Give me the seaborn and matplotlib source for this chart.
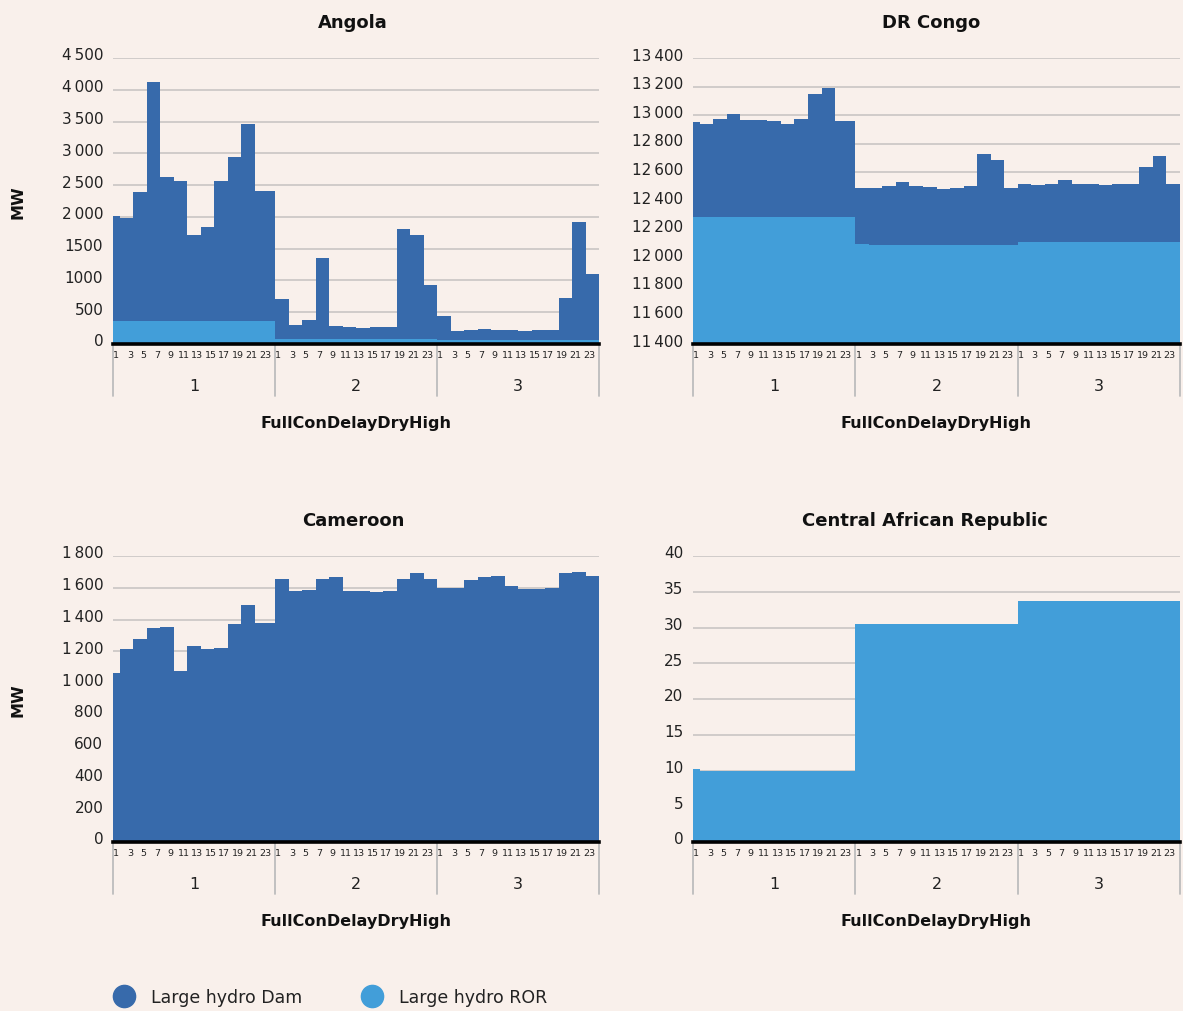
import numpy as np
import pandas as pd
import matplotlib
matplotlib.use("Agg")
import matplotlib.pyplot as plt
import matplotlib.transforms as mtransforms
from matplotlib.lines import Line2D
from matplotlib.ticker import FixedLocator, FixedFormatter
import seaborn as sns

# ---------------- data (MW, hourly, 3 representative days x 24 h) ----------------
GROUPS = ["1", "2", "3"]
HOUR_LABELS = [str(h) for h in range(1, 24, 2)]
SERIES = ["Large hydro Dam", "Large hydro ROR"]

ANGOLA_DAM = [
    1650, 1630, 1630, 2030, 2030, 3770, 3770, 2270, 2270, 2210, 2210, 1355,
    1355, 1480, 1480, 2210, 2210, 2580, 2580, 3100, 3100, 2055, 2055, 2055,
    628, 628, 224, 224, 303, 303, 1273, 1273, 214, 214, 198, 198,
    182, 182, 198, 198, 198, 198, 1730, 1730, 1635, 1635, 859, 859,
    376, 376, 134, 134, 150, 150, 171, 171, 150, 150, 150, 150,
    134, 134, 150, 150, 150, 150, 659, 659, 1851, 1851, 1042, 1042,
]
ANGOLA_ROR = [
    360, 360, 360, 360, 360, 360, 360, 360, 360, 360, 360, 360,
    360, 360, 360, 360, 360, 360, 360, 360, 360, 360, 360, 360,
    75, 75, 75, 75, 75, 75, 75, 75, 75, 75, 75, 75,
    75, 75, 75, 75, 75, 75, 75, 75, 75, 75, 75, 75,
    65, 65, 65, 65, 65, 65, 65, 65, 65, 65, 65, 65,
    65, 65, 65, 65, 65, 65, 65, 65, 65, 65, 65, 65,
]

DRC_DAM = [
    665, 650, 650, 680, 680, 718, 718, 678, 678, 678, 678, 667,
    667, 650, 650, 681, 681, 860, 860, 902, 902, 669, 669, 669,
    394, 394, 395, 395, 411, 411, 441, 441, 411, 411, 406, 406,
    392, 392, 395, 395, 413, 413, 635, 635, 593, 593, 395, 395,
    403, 403, 398, 398, 403, 403, 431, 431, 403, 403, 403, 403,
    398, 398, 403, 403, 403, 403, 522, 522, 601, 601, 403, 403,
]
DRC_ROR = [
    12290, 12290, 12290, 12290, 12290, 12290, 12290, 12290, 12290, 12290, 12290, 12290,
    12290, 12290, 12290, 12290, 12290, 12290, 12290, 12290, 12290, 12290, 12290, 12290,
    12100, 12100, 12095, 12095, 12095, 12095, 12095, 12095, 12095, 12095, 12095, 12095,
    12095, 12095, 12095, 12095, 12095, 12095, 12095, 12095, 12095, 12095, 12095, 12095,
    12115, 12115, 12115, 12115, 12115, 12115, 12115, 12115, 12115, 12115, 12115, 12115,
    12115, 12115, 12115, 12115, 12115, 12115, 12115, 12115, 12115, 12115, 12115, 12115,
]

CAMEROON_DAM = [
    1066, 1217, 1217, 1276, 1276, 1349, 1349, 1354, 1354, 1074, 1074, 1232,
    1232, 1217, 1217, 1219, 1219, 1370, 1370, 1490, 1490, 1377, 1377, 1377,
    1654, 1654, 1578, 1578, 1584, 1584, 1654, 1654, 1666, 1666, 1582, 1582,
    1582, 1582, 1576, 1576, 1582, 1582, 1656, 1656, 1696, 1696, 1656, 1656,
    1601, 1601, 1599, 1599, 1652, 1652, 1666, 1666, 1671, 1671, 1610, 1610,
    1595, 1595, 1595, 1595, 1597, 1597, 1694, 1694, 1702, 1702, 1673, 1673,
]
CAMEROON_ROR = [
    0, 0, 0, 0, 0, 0, 0, 0, 0, 0, 0, 0, 0, 0, 0, 0, 0, 0, 0, 0, 0, 0, 0, 0,
    0, 0, 0, 0, 0, 0, 0, 0, 0, 0, 0, 0, 0, 0, 0, 0, 0, 0, 0, 0, 0, 0, 0, 0,
    0, 0, 0, 0, 0, 0, 0, 0, 0, 0, 0, 0, 0, 0, 0, 0, 0, 0, 0, 0, 0, 0, 0, 0,
]

CAR_DAM = [
    0, 0, 0, 0, 0, 0, 0, 0, 0, 0, 0, 0, 0, 0, 0, 0, 0, 0, 0, 0, 0, 0, 0, 0,
    0, 0, 0, 0, 0, 0, 0, 0, 0, 0, 0, 0, 0, 0, 0, 0, 0, 0, 0, 0, 0, 0, 0, 0,
    0, 0, 0, 0, 0, 0, 0, 0, 0, 0, 0, 0, 0, 0, 0, 0, 0, 0, 0, 0, 0, 0, 0, 0,
]
CAR_ROR = [
    10.2, 9.9, 9.9, 9.9, 9.9, 9.9, 9.9, 9.9, 9.9, 9.9, 9.9, 9.9,
    9.9, 9.9, 9.9, 9.9, 9.9, 9.9, 9.9, 9.9, 9.9, 9.9, 9.9, 9.9,
    30.5, 30.5, 30.5, 30.5, 30.5, 30.5, 30.5, 30.5, 30.5, 30.5, 30.5, 30.5,
    30.5, 30.5, 30.5, 30.5, 30.5, 30.5, 30.5, 30.5, 30.5, 30.5, 30.5, 30.5,
    33.7, 33.7, 33.7, 33.7, 33.7, 33.7, 33.7, 33.7, 33.7, 33.7, 33.7, 33.7,
    33.7, 33.7, 33.7, 33.7, 33.7, 33.7, 33.7, 33.7, 33.7, 33.7, 33.7, 33.7,
]

# y-axis ticks and their labels as printed
ANGOLA_YTICKS = [0, 500, 1000, 1500, 2000, 2500, 3000, 3500, 4000, 4500]
ANGOLA_YLABELS = ["0", "500", "1000", "1500", "2\u2009000", "2\u2009500",
                  "3\u2009000", "3\u2009500", "4\u2009000", "4\u2009500"]
DRC_YTICKS = [11400, 11600, 11800, 12000, 12200, 12400, 12600, 12800, 13000, 13200, 13400]
DRC_YLABELS = ["11\u2009400", "11\u2009600", "11\u2009800", "12\u2009000", "12\u2009200",
               "12\u2009400", "12\u2009600", "12\u2009800", "13\u2009000", "13\u2009200",
               "13\u2009400"]
CAMEROON_YTICKS = [0, 200, 400, 600, 800, 1000, 1200, 1400, 1600, 1800]
CAMEROON_YLABELS = ["0", "200", "400", "600", "800", "1\u2009000", "1\u2009200",
                    "1\u2009400", "1\u2009600", "1\u2009800"]
CAR_YTICKS = [0, 5, 10, 15, 20, 25, 30, 35, 40]
CAR_YLABELS = ["0", "5", "10", "15", "20", "25", "30", "35", "40"]

# ---------------- style ----------------
BG = "#f9f0eb"
DAM_C = "#376aab"
ROR_C = "#429ed9"
PALETTE = {SERIES[0]: DAM_C, SERIES[1]: ROR_C}
GRID_C = "#c6c2c0"

sns.set_theme(style="white")
plt.rcParams["font.family"] = ["DejaVu Sans"]
plt.rcParams["axes.facecolor"] = BG
plt.rcParams["figure.facecolor"] = BG

W, H = 1183, 1012
fig = plt.figure(figsize=(W / 100, H / 100), dpi=100)


def rect(left, top, right, bottom):
    return [left / W, 1 - bottom / H, (right - left) / W, (bottom - top) / H]


panels = [
    ("Angola", ANGOLA_DAM, ANGOLA_ROR, ANGOLA_YTICKS, ANGOLA_YLABELS,
     rect(113, 59, 599, 345), True, 353),
    ("DR Congo", DRC_DAM, DRC_ROR, DRC_YTICKS, DRC_YLABELS,
     rect(693, 59, 1180, 345), False, 931),
    ("Cameroon", CAMEROON_DAM, CAMEROON_ROR, CAMEROON_YTICKS, CAMEROON_YLABELS,
     rect(113, 557, 599, 843), True, 353),
    ("Central African Republic", CAR_DAM, CAR_ROR, CAR_YTICKS, CAR_YLABELS,
     rect(693, 557, 1180, 843), False, 925),
]

n = len(GROUPS) * 24
for title, dam, ror, yticks, ylabels, r, left_col, title_px in panels:
    ax = fig.add_axes(r)
    ax.set_facecolor(BG)
    df = pd.DataFrame({
        "pos": list(range(n)) * 2,
        "series": [SERIES[0]] * n + [SERIES[1]] * n,
        "MW": list(dam) + list(ror),
    })
    df = df[df["MW"] > 0]
    levels = [s for s in SERIES if s in set(df["series"])]
    sns.histplot(data=df, x="pos", weights="MW", hue="series", hue_order=levels,
                 palette=PALETTE, multiple="stack", discrete=True, element="step",
                 fill=True, alpha=1, linewidth=0, legend=False, ax=ax)
    ax.set_xlim(-0.5, n - 0.5)
    ax.set_ylim(yticks[0], yticks[-1])
    ax.yaxis.set_major_locator(FixedLocator(yticks))
    ax.yaxis.set_major_formatter(FixedFormatter(ylabels))
    ax.grid(axis="y", color=GRID_C, lw=1.1)
    ax.grid(axis="x", visible=False)
    ax.set_axisbelow(True)
    for s in ["top", "right", "left"]:
        ax.spines[s].set_visible(False)
    ax.spines["bottom"].set_color("black")
    ax.spines["bottom"].set_linewidth(2.6)
    ax.spines["bottom"].set_zorder(5)

    ticks = [g * 24 + h - 1 for g in range(len(GROUPS)) for h in range(1, 24, 2)]
    ax.set_xticks(ticks)
    ax.set_xticklabels(HOUR_LABELS * len(GROUPS))
    ax.tick_params(axis="x", length=0, pad=4, labelsize=6.8, colors="#222222")
    ax.tick_params(axis="y", length=0, pad=7, labelsize=11, colors="#222222")
    shift = mtransforms.ScaledTranslation(0, 4.5 / 100, fig.dpi_scale_trans)
    for lab in ax.get_yticklabels():
        lab.set_transform(lab.get_transform() + shift)
    ax.set_xlabel("")
    ax.set_ylabel("")

    ax_h = (r[3] * H)
    ax_w = (r[2] * W)
    trans = mtransforms.blended_transform_factory(ax.transData, ax.transAxes)
    for b in [-0.5, 23.5, 47.5, 71.5]:
        ax.plot([b, b], [0, -52 / ax_h], transform=trans, color="#bdbdbd",
                lw=1.3, clip_on=False)
    for g, lab in enumerate(GROUPS):
        ax.text(g * 24 + 11.5, -42 / ax_h, lab, transform=trans, ha="center",
                va="center", fontsize=11.5, color="#222222")
    ax.text(0.5, -79 / ax_h, "FullConDelayDryHigh", transform=ax.transAxes,
            ha="center", va="center", fontsize=11.5, fontweight="bold", color="#111111")
    ax.set_title(title, fontsize=13, fontweight="bold", pad=22, color="#111111",
                 x=(title_px - r[0] * W) / ax_w)
    if left_col:
        fig.text(18 / W, r[1] + r[3] / 2, "MW", rotation=90, ha="center",
                 va="center", fontsize=11.5, fontweight="bold", color="#111111")

handles = [
    Line2D([], [], marker="o", ls="", markersize=16, markerfacecolor=DAM_C, markeredgecolor=DAM_C),
    Line2D([], [], marker="o", ls="", markersize=16, markerfacecolor=ROR_C, markeredgecolor=ROR_C),
]
fig.legend(handles, SERIES, loc="center left", bbox_to_anchor=(96 / W, 1 - 998 / H),
           ncol=2, frameon=False, fontsize=12.5, handletextpad=0.85,
           columnspacing=3.35, handlelength=1.4, labelcolor="#222222")

fig.savefig("out.png", dpi=100, facecolor=BG)
